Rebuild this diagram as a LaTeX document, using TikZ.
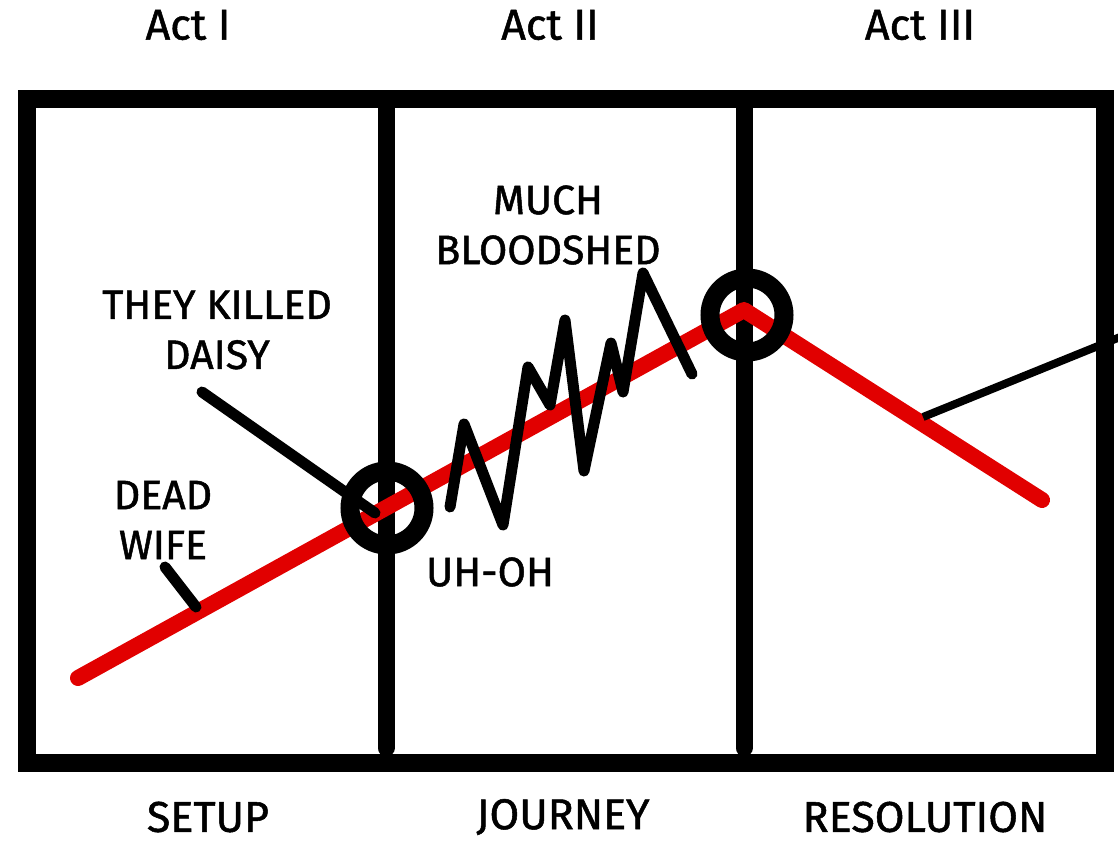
\documentclass[tikz,border=0pt]{standalone}
\usepackage{fontspec}
\setmainfont{Fira Sans}[FakeBold=1.2]
\usetikzlibrary{positioning}
\definecolor{ink}{HTML}{000000}
\definecolor{plotred}{HTML}{E10000}
\tikzset{
  font=\fontsize{41}{50}\selectfont,
  %
  frame/.style={draw=ink, line width=18pt},
  divider/.style={draw=ink, line width=17pt, line cap=round},
  storyline/.style={draw=plotred, line width=16pt, line cap=round, line join=round},
  ring/.style={draw=ink, line width=19pt},
  pointer/.style={draw=ink, line width=11pt, line cap=round},
  zigzag/.style={draw=ink, line width=11pt, line cap=round, line join=round},
  %
  act/.style={font=\fontsize{43}{50}\selectfont, text=ink, inner sep=0pt},
  beat/.style={text=ink, align=center, inner sep=0pt},
}
\begin{document}
\begin{tikzpicture}[x=1pt, y=-1pt]

  \useasboundingbox (0,0) rectangle (1118,844);

  % headings
  \node[act] (actone)   at (188,25) {Act I};
  \node[act] (acttwo)   at (550,25) {Act II};
  \node[act] (actthree) at (920,25) {Act III};

  \node[act] (setup)      at (208,817) {SETUP};
  \node[act] (journey)    at (563,817) {JOURNEY};
  \node[act] (resolution) at (925,817) {RESOLUTION};

  % frame and acts
  \draw[frame] (27,99) rectangle (1105,763);
  \draw[divider] (386,99) -- (386,748);
  \draw[divider] (744,99) -- (744,748);

  % the story
  \coordinate (start) at (78,678);
  \coordinate (peak) at (744,310);
  \coordinate (finish) at (1042,500);
  \draw[storyline] (start) -- (peak) -- (finish);

  \draw[ring] (387,508) circle[radius=37];
  \draw[ring] (747,315) circle[radius=37];

  % beats
  \node[beat] (bloodshed) at (548,225) {MUCH\\BLOODSHED};
  \node[beat] (daisy) at (217,330) {THEY KILLED\\DAISY};
  \node[beat] (wife) at (163,520) {DEAD\\WIFE};
  \node[beat] (uhoh) at (490,572) {UH-OH};

  \coordinate (daisytail) at (202,392);
  \coordinate (daisyhit) at (375,513);
  \coordinate (wifetail) at (165,567);
  \coordinate (wifehit) at (196,607);
  \coordinate (endhit) at (923,417);
  \coordinate (endtail) at (1135,331);

  \draw[pointer] (daisytail) -- (daisyhit);
  \draw[pointer] (wifetail) -- (wifehit);
  \draw[pointer, line width=8pt, line cap=butt] (endhit) -- (endtail);

  \draw[zigzag] (450,507) -- (464,424) -- (503,525) -- (528,367) -- (550,405)
    -- (565,320) -- (584,471) -- (611,343) -- (623,392) -- (643,273) -- (692,374);

\end{tikzpicture}
\end{document}
